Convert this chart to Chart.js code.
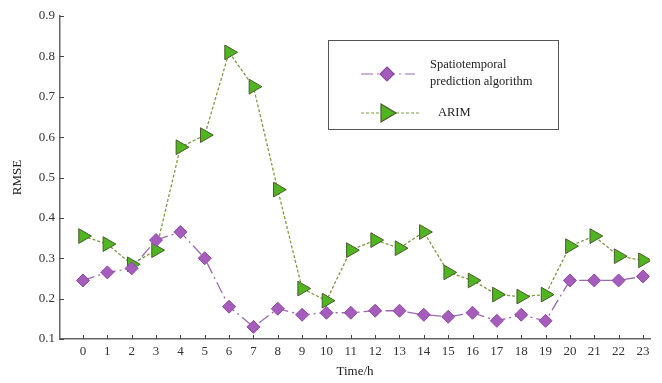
<!DOCTYPE html>
<html>
<head>
<meta charset="utf-8">
<script src="https://cdn.jsdelivr.net/npm/chart.js@4"></script>
<style>
  html, body { margin: 0; padding: 0; background: #fff; }
  #wrap { width: 662px; height: 383px; position: relative; }
</style>
</head>
<body>
<div id="wrap"><canvas id="rmse"></canvas></div>
<script>
const hours = [0, 1, 2, 3, 4, 5, 6, 7, 8, 9, 10, 11, 12, 13, 14, 15, 16, 17, 18, 19, 20, 21, 22, 23];
const spatio = [0.245, 0.265, 0.275, 0.345, 0.365, 0.30, 0.18, 0.13, 0.175, 0.16, 0.165, 0.165,
                0.17, 0.17, 0.16, 0.155, 0.165, 0.145, 0.16, 0.145, 0.245, 0.245, 0.245, 0.255];
const arim = [0.355, 0.335, 0.285, 0.32, 0.575, 0.605, 0.81, 0.725, 0.47, 0.225, 0.195, 0.32,
              0.345, 0.325, 0.365, 0.265, 0.245, 0.21, 0.205, 0.21, 0.33, 0.355, 0.305, 0.295];
const yTicks = [0.1, 0.2, 0.3, 0.4, 0.5, 0.6, 0.7, 0.8, 0.9];

const serif = "'Liberation Serif', 'DejaVu Serif', serif";
const purple = "#9a6bb0", purpleFill = "#a65cbc", purpleEdge = "#8a4a9e";
const green = "#7f9a45", greenFill = "#4fb520", greenEdge = "#4d5a2c";

// inward tick marks + legend box
const extras = {
  id: 'extras',
  afterDraw(chart) {
    const c = chart.ctx, x = chart.scales.x, y = chart.scales.y;
    c.save();
    c.strokeStyle = '#444';
    c.lineWidth = 1;
    hours.forEach(h => {
      const px = Math.round(x.getPixelForValue(h)) + 0.5;
      c.beginPath(); c.moveTo(px, y.bottom); c.lineTo(px, y.bottom - 4); c.stroke();
    });
    yTicks.forEach(v => {
      const py = Math.round(y.getPixelForValue(v)) + 0.5;
      c.beginPath(); c.moveTo(x.left, py); c.lineTo(x.left + 4, py); c.stroke();
    });

    // legend
    c.strokeStyle = '#555';
    c.lineWidth = 1;
    c.strokeRect(328.5, 40.5, 230, 89);
    c.setLineDash([12, 4, 2, 4]);
    c.strokeStyle = purple; c.lineWidth = 1.2;
    c.beginPath(); c.moveTo(361, 74); c.lineTo(415, 74); c.stroke();
    c.setLineDash([3, 2]);
    c.strokeStyle = green;
    c.beginPath(); c.moveTo(361, 113); c.lineTo(420, 113); c.stroke();
    c.setLineDash([]);
    // diamond
    c.fillStyle = purpleFill; c.strokeStyle = purpleEdge;
    c.beginPath(); c.moveTo(387, 67); c.lineTo(394, 74); c.lineTo(387, 81); c.lineTo(380, 74); c.closePath();
    c.fill(); c.stroke();
    // triangle
    c.fillStyle = greenFill; c.strokeStyle = greenEdge;
    c.beginPath(); c.moveTo(381, 104); c.lineTo(396, 113); c.lineTo(381, 122); c.closePath();
    c.fill(); c.stroke();
    c.fillStyle = '#222';
    c.font = "12.5px " + serif;
    c.textBaseline = 'middle';
    c.fillText('Spatiotemporal', 430, 65);
    c.fillText('prediction algorithm', 430, 82);
    c.fillText('ARIM', 438, 113);
    c.restore();
  }
};

new Chart(document.getElementById('rmse'), {
  type: 'line',
  data: {
    datasets: [
      {
        label: 'Spatiotemporal prediction algorithm',
        data: hours.map((h, i) => ({ x: h, y: spatio[i] })),
        borderColor: purple,
        borderWidth: 1.3,
        borderDash: [12, 4, 2, 4],
        pointStyle: 'rectRot',
        pointRadius: 6.5,
        pointBackgroundColor: purpleFill,
        pointBorderColor: purpleEdge,
        pointBorderWidth: 1,
        tension: 0
      },
      {
        label: 'ARIM',
        data: hours.map((h, i) => ({ x: h, y: arim[i] })),
        borderColor: green,
        borderWidth: 1.3,
        borderDash: [3, 2],
        pointStyle: 'triangle',
        rotation: 90,
        pointRadius: 8.5,
        pointBackgroundColor: greenFill,
        pointBorderColor: greenEdge,
        pointBorderWidth: 1,
        tension: 0
      }
    ]
  },
  options: {
    responsive: true,
    maintainAspectRatio: false,
    animation: false,
    layout: { padding: { top: 16, right: 12, left: 0, bottom: 0 } },
    plugins: { legend: { display: false }, tooltip: { enabled: false } },
    scales: {
      x: {
        type: 'linear',
        min: -0.945,
        max: 23.29,
        afterBuildTicks: s => { s.ticks = hours.map(h => ({ value: h })); },
        afterFit: s => { s.height = 44; },
        grid: { display: false, drawTicks: false },
        border: { display: true, color: '#666', width: 1.5 },
        ticks: { color: '#333', font: { family: serif, size: 13 }, padding: 5, maxRotation: 0, autoSkip: false },
        title: { display: true, text: 'Time/h', color: '#222', font: { family: serif, size: 13 }, padding: { top: 3 } }
      },
      y: {
        min: 0.1,
        max: 0.9,
        afterBuildTicks: s => { s.ticks = yTicks.map(v => ({ value: v })); },
        afterFit: s => { s.width = 60; },
        grid: { display: false, drawTicks: false },
        border: { display: true, color: '#666', width: 1.5 },
        ticks: { color: '#333', font: { family: serif, size: 13 }, padding: 5, callback: v => v.toFixed(1) },
        title: { display: true, text: 'RMSE', color: '#222', font: { family: serif, size: 13 }, padding: { top: 10, bottom: 4 } }
      }
    }
  },
  plugins: [extras]
});
</script>
</body>
</html>
